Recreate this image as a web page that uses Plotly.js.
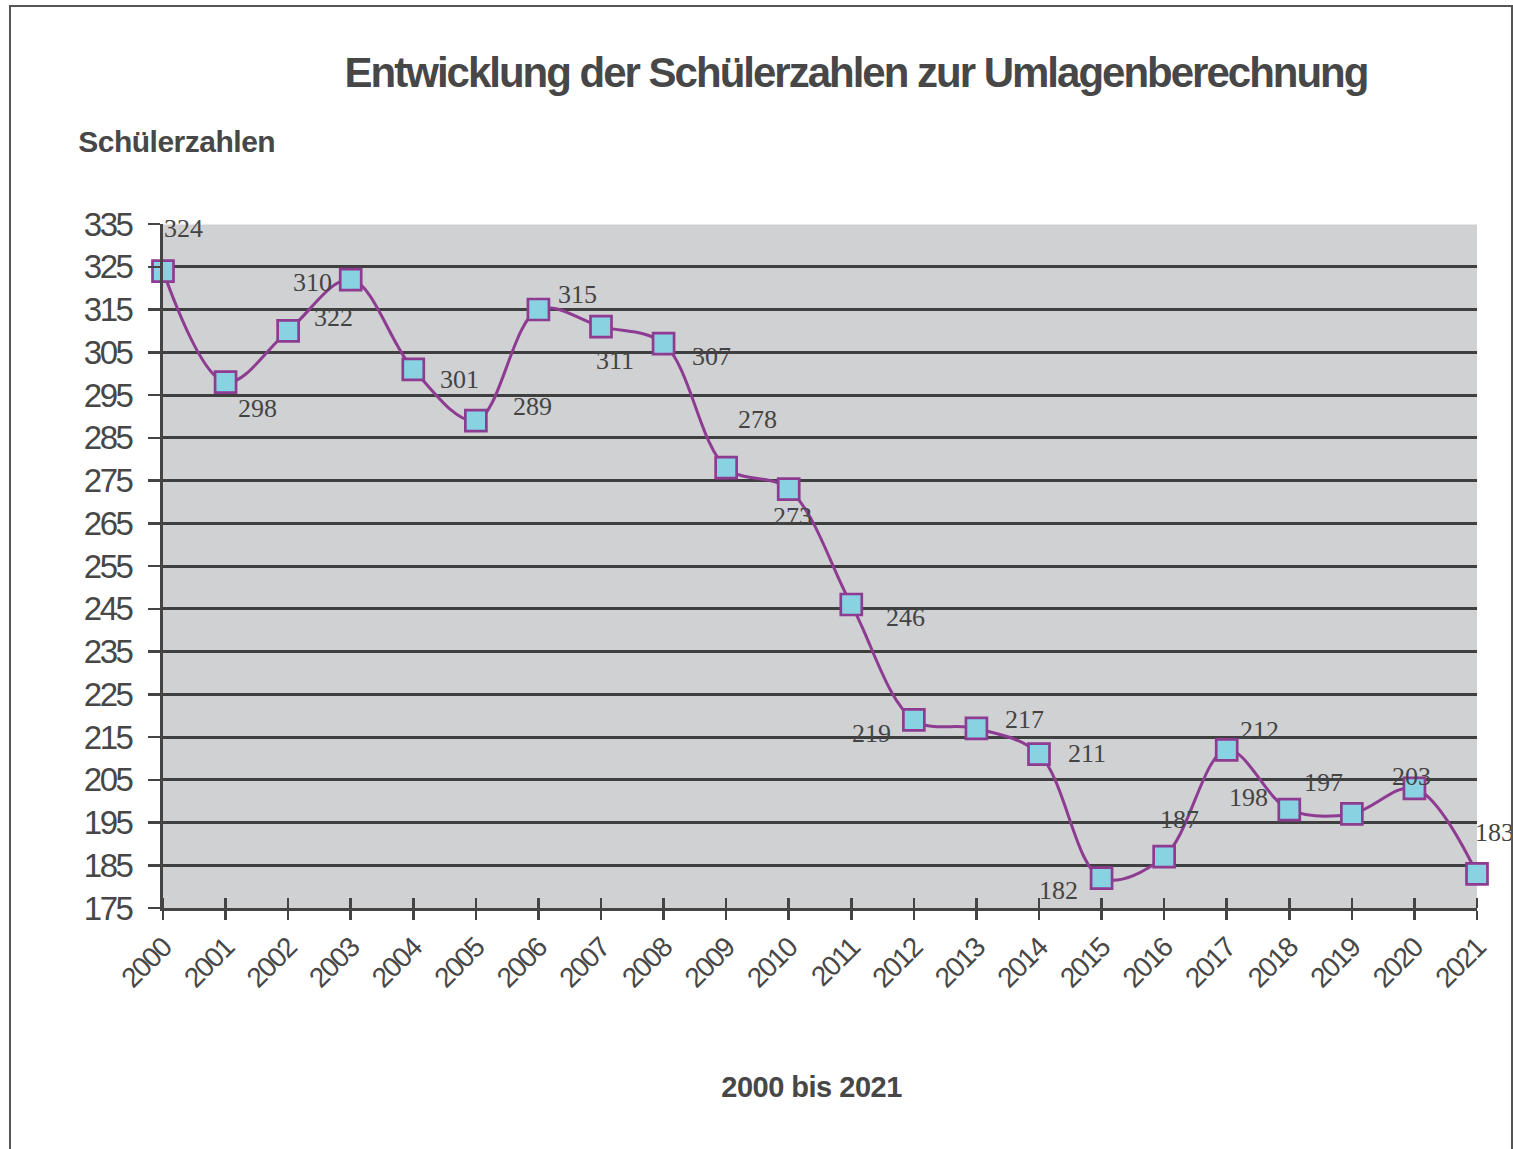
<!DOCTYPE html>
<html>
<head>
<meta charset="utf-8">
<script src="https://cdn.plot.ly/plotly-3.0.1.min.js"></script>
<style>
html,body{margin:0;padding:0;background:#fff;}
#chart{position:absolute;left:0;top:0;width:1513px;height:1149px;}
#frame{position:absolute;left:9px;top:5px;width:1500px;height:1160px;border:2px solid #555;pointer-events:none;}
.gtitle{letter-spacing:-2px;}
.ytick text{letter-spacing:-2.5px;}
.xtick text{letter-spacing:-1.5px;}
</style>
</head>
<body>
<div id="chart"></div>
<div id="frame"></div>
<script>
// Data
const years = [2000,2001,2002,2003,2004,2005,2006,2007,2008,2009,2010,2011,2012,2013,2014,2015,2016,2017,2018,2019,2020,2021];
const pupils = [324,298,310,322,301,289,315,311,307,278,273,246,219,217,211,182,187,212,198,197,203,183];
const yTicks = [175,185,195,205,215,225,235,245,255,265,275,285,295,305,315,325,335];
// Label offsets in px (as placed in the original chart)
const labelDx = [20,32,24,-17,46,57,39,14,48,31,4,54,-42,48,48,-43,15,33,-41,-28,-3,17];
const labelDy = [-43,26,-48,38,10,-14,-15,34,13,-48,27,13,14,-9,-1,12,-37,-19,-12,-31,-12,-41];

const sans = '"Liberation Sans", Arial, sans-serif';
const txt = '#474747';

const trace = {
  x: years, y: pupils, type: 'scatter', mode: 'lines+markers', cliponaxis: false,
  line: {shape: 'spline', smoothing: 1, color: '#8e3b92', width: 3},
  marker: {symbol: 'square', size: 21, color: '#88d2e1', line: {color: '#8e3b92', width: 2.7}},
  hoverinfo: 'x+y'
};

const annotations = years.map((yr, i) => ({
  x: yr, y: pupils[i], xref: 'x', yref: 'y', text: String(pupils[i]),
  showarrow: false, xshift: labelDx[i], yshift: -labelDy[i],
  font: {family: '"Liberation Serif", "Times New Roman", serif', size: 26, color: '#444'},
  xanchor: 'center', yanchor: 'middle'
}));
annotations.push({
  xref: 'paper', yref: 'paper', x: (73-163)/1314, y: 1 + (225-143)/683,
  xanchor: 'left', yanchor: 'middle', showarrow: false, text: '<b>Schülerzahlen</b>',
  font: {family: sans, size: 30, color: txt}
});
annotations.push({
  xref: 'paper', yref: 'paper', x: (811-163)/1314, y: -(1087-908)/683,
  xanchor: 'center', yanchor: 'middle', showarrow: false, text: '<b>2000 bis 2021</b>',
  font: {family: sans, size: 29, color: txt}
});

const layout = {
  width: 1513, height: 1149,
  margin: {l: 163, r: 36, t: 224, b: 241, pad: 0},
  paper_bgcolor: 'rgba(0,0,0,0)',
  plot_bgcolor: '#d0d1d3',
  showlegend: false,
  title: {
    text: '<b>Entwicklung der Schülerzahlen zur Umlagenberechnung</b>',
    xref: 'container', yref: 'container', x: 856/1513, y: 1 - 72/1149,
    xanchor: 'center', yanchor: 'middle',
    font: {family: sans, size: 42, color: txt}
  },
  xaxis: {
    range: [2000, 2021], tickmode: 'array', tickvals: years, ticktext: years.map(String),
    tickangle: -45, ticks: 'outside', ticklen: 9, tickwidth: 2.5, tickcolor: '#444',
    minor: {tickmode: 'array', tickvals: years, ticks: 'inside', ticklen: 10, tickwidth: 2.5, tickcolor: '#444', showgrid: false},
    showline: true, linecolor: '#444', linewidth: 3,
    showgrid: false, zeroline: false,
    tickfont: {family: sans, size: 28, color: txt},
    fixedrange: true
  },
  yaxis: {
    range: [175, 335], tickmode: 'array', tickvals: yTicks, ticktext: yTicks.map(String),
    ticks: 'outside', ticklen: 12, tickwidth: 2.5, tickcolor: '#444',
    ticklabelstandoff: 10,
    showline: true, linecolor: '#444', linewidth: 3,
    showgrid: true, gridcolor: '#3f3f3f', gridwidth: 3, zeroline: false,
    tickfont: {family: sans, size: 33, color: txt},
    fixedrange: true
  },
  shapes: [{
    type: 'line', xref: 'paper', yref: 'y', x0: 0, x1: 1, y0: 335, y1: 335,
    line: {color: '#e8e8e8', width: 2}
  }],
  annotations: annotations
};

Plotly.newPlot('chart', [trace], layout, {displayModeBar: false, staticPlot: true}).then(() => {
  document.querySelectorAll('.annotation-text').forEach(t => {
    if (t.textContent === 'Schülerzahlen' || t.textContent === '2000 bis 2021') t.style.letterSpacing = '-0.5px';
  });
});
</script>
</body>
</html>
